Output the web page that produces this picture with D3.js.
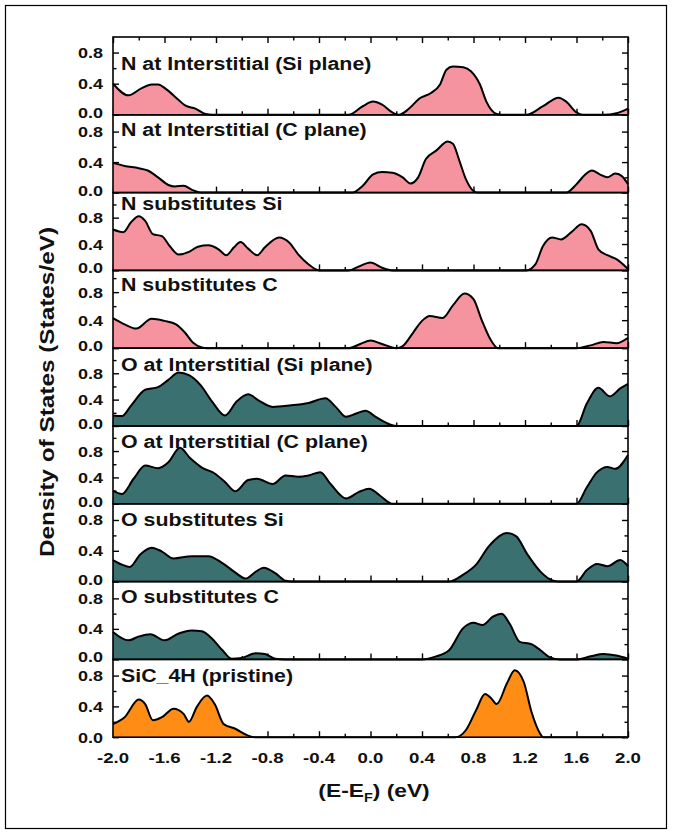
<!DOCTYPE html>
<html><head><meta charset="utf-8">
<script src="https://cdn.jsdelivr.net/npm/d3@7"></script>
<style>
body{margin:0;background:#fff}
svg{display:block}
text{font-family:"Liberation Sans",Arial,Helvetica,sans-serif;font-weight:bold;fill:#111}
</style>
</head><body>
<svg id="c" width="675" height="833"></svg>
<script>
// ---------- DATA ----------
const titles = ["N at Interstitial (Si plane)","N at Interstitial (C plane)","N substitutes Si","N substitutes C",
  "O at Interstitial (Si plane)","O at Interstitial (C plane)","O substitutes Si","O substitutes C","SiC_4H (pristine)"];
const xTickValues = [-2.0,-1.6,-1.2,-0.8,-0.4,0.0,0.4,0.8,1.2,1.6,2.0];
const xTickLabels = ["-2.0","-1.6","-1.2","-0.8","-0.4","0.0","0.4","0.8","1.2","1.6","2.0"];
const yTickValues = [0.0,0.4,0.8];
const yTickLabels = ["0.0","0.4","0.8"];

const nInterSi = [[-2.0,0.40],[-1.88,0.25],[-1.78,0.34],[-1.70,0.39],[-1.65,0.39],[-1.58,0.32],[-1.49,0.19],[-1.44,0.12],[-1.36,0.08],[-1.28,0.01],[-1.23,0],[-0.17,0],[-0.06,0.11],[0.02,0.17],[0.09,0.13],[0.17,0.03],[0.22,0],[0.30,0.08],[0.38,0.21],[0.47,0.28],[0.54,0.39],[0.59,0.58],[0.64,0.62],[0.72,0.61],[0.78,0.56],[0.85,0.39],[0.90,0.17],[0.98,0.01],[1.02,0],[1.21,0],[1.34,0.11],[1.46,0.22],[1.52,0.17],[1.60,0.03],[1.65,0],[1.81,0],[1.91,0.02],[2.0,0.08]];
const nInterC = [[-2.0,0.39],[-1.91,0.35],[-1.80,0.32],[-1.73,0.29],[-1.65,0.20],[-1.57,0.10],[-1.52,0.08],[-1.45,0.09],[-1.39,0.04],[-1.32,0],[-0.14,0],[-0.06,0.09],[0.02,0.24],[0.09,0.27],[0.17,0.26],[0.25,0.20],[0.31,0.12],[0.37,0.20],[0.43,0.44],[0.51,0.55],[0.60,0.67],[0.64,0.64],[0.69,0.42],[0.74,0.18],[0.80,0.02],[0.83,0],[1.52,0],[1.60,0.11],[1.67,0.24],[1.72,0.29],[1.78,0.24],[1.84,0.20],[1.90,0.25],[1.95,0.22],[2.0,0.11]];
const nSubSi = [[-2.0,0.62],[-1.92,0.58],[-1.86,0.73],[-1.80,0.82],[-1.75,0.75],[-1.69,0.55],[-1.62,0.52],[-1.56,0.37],[-1.49,0.24],[-1.41,0.28],[-1.34,0.36],[-1.26,0.38],[-1.18,0.32],[-1.12,0.23],[-1.06,0.35],[-1.01,0.43],[-0.95,0.33],[-0.88,0.23],[-0.82,0.35],[-0.71,0.50],[-0.63,0.42],[-0.56,0.24],[-0.48,0.09],[-0.40,0],[-0.17,0],[-0.09,0.06],[0.0,0.12],[0.09,0.04],[0.17,0],[1.21,0],[1.28,0.09],[1.34,0.37],[1.41,0.50],[1.48,0.47],[1.56,0.58],[1.64,0.70],[1.71,0.60],[1.77,0.32],[1.84,0.23],[1.91,0.17],[2.0,0.02]];
const nSubC = [[-2.0,0.43],[-1.91,0.34],[-1.82,0.28],[-1.70,0.42],[-1.60,0.39],[-1.51,0.34],[-1.44,0.22],[-1.38,0.08],[-1.31,0.01],[-1.27,0],[-0.17,0],[-0.08,0.06],[0.0,0.11],[0.09,0.06],[0.20,0],[0.25,0.03],[0.33,0.22],[0.40,0.39],[0.46,0.46],[0.56,0.43],[0.64,0.61],[0.73,0.78],[0.80,0.70],[0.86,0.42],[0.93,0.13],[0.99,0],[1.60,0],[1.71,0.04],[1.81,0.09],[1.91,0.07],[2.0,0.15]];
const oInterSi = [[-2.0,0.16],[-1.93,0.15],[-1.86,0.31],[-1.75,0.55],[-1.65,0.59],[-1.57,0.70],[-1.49,0.81],[-1.41,0.77],[-1.32,0.62],[-1.23,0.37],[-1.13,0.16],[-1.04,0.37],[-0.95,0.48],[-0.87,0.39],[-0.76,0.29],[-0.63,0.31],[-0.48,0.35],[-0.35,0.42],[-0.27,0.29],[-0.19,0.14],[-0.11,0.19],[-0.04,0.23],[0.04,0.14],[0.12,0.05],[0.20,0],[1.60,0],[1.68,0.34],[1.77,0.58],[1.86,0.45],[1.94,0.57],[2.0,0.64]];
const oInterC = [[-2.0,0.20],[-1.93,0.15],[-1.84,0.38],[-1.75,0.58],[-1.65,0.54],[-1.57,0.63],[-1.48,0.85],[-1.40,0.69],[-1.31,0.55],[-1.21,0.46],[-1.13,0.33],[-1.05,0.19],[-0.95,0.36],[-0.88,0.38],[-0.76,0.30],[-0.66,0.43],[-0.56,0.41],[-0.48,0.43],[-0.39,0.48],[-0.31,0.30],[-0.19,0.08],[-0.09,0.18],[-0.01,0.23],[0.07,0.13],[0.17,0],[1.60,0],[1.68,0.25],[1.76,0.48],[1.84,0.56],[1.90,0.53],[2.0,0.74]];
const oSubSi = [[-2.0,0.28],[-1.93,0.22],[-1.87,0.19],[-1.79,0.35],[-1.70,0.44],[-1.62,0.39],[-1.53,0.30],[-1.39,0.33],[-1.26,0.33],[-1.15,0.24],[-1.06,0.13],[-0.97,0.04],[-0.89,0.13],[-0.83,0.18],[-0.74,0.11],[-0.66,0.01],[-0.61,0],[0.61,0],[0.72,0.09],[0.82,0.22],[0.92,0.46],[1.06,0.63],[1.13,0.59],[1.22,0.35],[1.32,0.13],[1.42,0.01],[1.46,0],[1.60,0],[1.68,0.15],[1.76,0.23],[1.84,0.20],[1.94,0.28],[2.0,0.20]];
const oSubC = [[-2.0,0.36],[-1.88,0.25],[-1.80,0.30],[-1.71,0.33],[-1.60,0.25],[-1.49,0.34],[-1.39,0.38],[-1.31,0.37],[-1.23,0.27],[-1.15,0.12],[-1.08,0.01],[-1.00,0.02],[-0.89,0.08],[-0.82,0.07],[-0.74,0.01],[-0.66,0],[0.40,0],[0.51,0.04],[0.61,0.12],[0.72,0.41],[0.80,0.48],[0.87,0.45],[0.95,0.56],[1.02,0.60],[1.08,0.47],[1.16,0.23],[1.25,0.20],[1.32,0.12],[1.39,0.03],[1.47,0],[1.60,0],[1.71,0.04],[1.81,0.07],[1.91,0.05],[2.0,0.01]];
const pristine = [[-2.0,0.17],[-1.91,0.26],[-1.80,0.49],[-1.75,0.43],[-1.69,0.22],[-1.62,0.26],[-1.53,0.37],[-1.45,0.30],[-1.41,0.20],[-1.35,0.39],[-1.27,0.54],[-1.21,0.43],[-1.14,0.17],[-1.05,0.11],[-0.95,0.02],[-0.90,0],[0.66,0],[0.74,0.09],[0.82,0.35],[0.89,0.56],[0.94,0.50],[0.98,0.43],[1.06,0.70],[1.12,0.87],[1.19,0.72],[1.25,0.33],[1.32,0.04],[1.34,0],[2.0,0]];

const seriesList = [nInterSi,nInterC,nSubSi,nSubC,oInterSi,oInterC,oSubSi,oSubC,pristine];
const yMaxes = [1.0,1.02,1.18,1.11,1.18,1.18,1.01,1.02,1.01];

// ---------- STYLE / LAYOUT ----------
const PINK="#F5939F", TEAL="#3A7070", ORANGE="#FF8C14";
const fills=[PINK,PINK,PINK,PINK,TEAL,TEAL,TEAL,TEAL,ORANGE];
const titleBaseDy=[33,21,17.5,20.5,22.5,22,22,21.5,22.5];
const L=113, R=628, T=37, PH=77.8;
const SX=1.2; // horizontal glyph stretch

const svg=d3.select("#c");
svg.append("rect").attr("x",5.5).attr("y",5.5).attr("width",661).attr("height",823)
  .attr("fill","none").attr("stroke","#000").attr("stroke-width",1.2);

const x=d3.scaleLinear().domain([-2,2]).range([L,R]);
const xMinor=d3.range(-1.8,2.0,0.4).map(v=>+v.toFixed(1));

function stretchedText(g,tx,ty,str,size,anchor){
  return g.append("text").attr("transform",`translate(${tx},${ty}) scale(${SX},1)`)
    .attr("font-size",size).attr("text-anchor",anchor).text(str);
}

seriesList.forEach((data,i)=>{
  const y0=T+i*PH, y1=y0+PH;
  const y=d3.scaleLinear().domain([0,yMaxes[i]]).range([y1,y0]);
  const g=svg.append("g");
  const yMinor=d3.range(0.2,yMaxes[i]-0.02,0.4).map(v=>+v.toFixed(1));
  const yMajor=yTickValues.filter(v=>v<yMaxes[i]-0.02);

  const addAxis=(axis,tr)=>{
    const a=g.append("g").attr("transform",tr).call(axis);
    a.select(".domain").remove();
    a.selectAll("line").attr("stroke","#000").attr("stroke-width",1.4);
  };
  addAxis(d3.axisBottom(x).tickValues(xTickValues).tickSize(-6).tickFormat(""),`translate(0,${y1})`);
  addAxis(d3.axisBottom(x).tickValues(xMinor).tickSize(-3.5).tickFormat(""),`translate(0,${y1})`);
  if(i===0){
    addAxis(d3.axisTop(x).tickValues(xTickValues).tickSize(-6).tickFormat(""),`translate(0,${y0})`);
    addAxis(d3.axisTop(x).tickValues(xMinor).tickSize(-3.5).tickFormat(""),`translate(0,${y0})`);
  }
  addAxis(d3.axisLeft(y).tickValues(yMajor).tickSize(-6).tickFormat(""),`translate(${L},0)`);
  addAxis(d3.axisLeft(y).tickValues(yMinor).tickSize(-3.5).tickFormat(""),`translate(${L},0)`);
  addAxis(d3.axisRight(y).tickValues(yMajor).tickSize(-6).tickFormat(""),`translate(${R},0)`);
  addAxis(d3.axisRight(y).tickValues(yMinor).tickSize(-3.5).tickFormat(""),`translate(${R},0)`);

  const area=d3.area().x(d=>x(d[0])).y0(y(0)).y1(d=>y(d[1])).curve(d3.curveMonotoneX);
  const line=d3.line().x(d=>x(d[0])).y(d=>y(d[1])).curve(d3.curveMonotoneX);
  g.append("path").datum(data).attr("d",area).attr("fill",fills[i]);
  g.append("path").datum(data).attr("d",line).attr("fill","none").attr("stroke","#000").attr("stroke-width",2);

  g.append("rect").attr("x",L).attr("y",y0).attr("width",R-L).attr("height",PH)
    .attr("fill","none").attr("stroke","#000").attr("stroke-width",1.6);

  yTickValues.forEach((v,k)=>{
    const nudge=(v===0 && i<8)?-2.5:0;
    stretchedText(g,103,y(v)+5.5+nudge,yTickLabels[k],15,"end");
  });
  stretchedText(g,121,y0+titleBaseDy[i],titles[i],17.8,"start");
});

const yBottom=T+9*PH;
xTickValues.forEach((v,k)=>{
  stretchedText(svg,x(v),yBottom+26,xTickLabels[k],15.5,"middle");
});

// x-axis title
const xt=svg.append("text").attr("transform",`translate(374,797) scale(${SX},1)`)
  .attr("font-size",19).attr("text-anchor","middle");
xt.append("tspan").text("(E-E");
xt.append("tspan").attr("font-size",12).attr("dy",5).text("F");
xt.append("tspan").attr("dy",-5).text(") (eV)");

// y-axis title
svg.append("text").attr("transform",`translate(54,392) rotate(-90) scale(${SX},1)`)
  .attr("font-size",20.3).attr("text-anchor","middle").text("Density of States (States/eV)");
</script>
</body></html>
